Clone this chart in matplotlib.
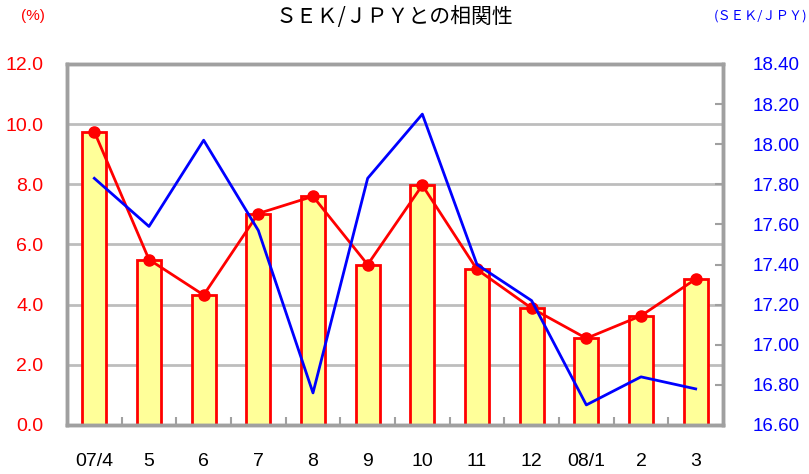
import numpy as np
import matplotlib.pyplot as plt

plt.rcParams['font.family'] = ['Liberation Sans', 'Noto Sans CJK JP', 'DejaVu Sans']

## Datos
months = ['07/4', '5', '6', '7', '8', '9', '10', '11', '12', '08/1', '2', '3']
rate = [9.75, 5.5, 4.32, 7.03, 7.6, 5.33, 7.97, 5.17, 3.88, 2.88, 3.63, 4.85]
sekjpy = [17.83, 17.59, 18.02, 17.57, 16.76, 17.83, 18.15, 17.40, 17.22, 16.70, 16.84, 16.78]

x = np.arange(len(months))
gray = '#a0a0a0'
cjk = ['Noto Sans CJK JP', 'DejaVu Sans']

fig = plt.figure(figsize=(8.09, 4.74), dpi=100)
ax = fig.add_axes([0.0828, 0.1034, 0.8109, 0.7616])

ax.bar(x, rate, width=0.44, color='#ffff99', edgecolor='red', linewidth=2, zorder=2)
ax.plot(x, rate, '-o', color='red', lw=2, ms=8, zorder=3)
ax.set_xlim(-0.5, len(months) - 0.5)
ax.set_ylim(0, 12)
ax.set_yticks(np.arange(0, 12.1, 2))
ax.set_yticklabels(['%.1f' % v for v in np.arange(0, 12.1, 2)])
ax.yaxis.grid(True, color='#bdbdbd', lw=2, zorder=0)
ax.set_axisbelow(True)
ax.tick_params(axis='y', colors='red', labelsize=14, length=0, pad=17)
ax.set_xticks(x)
ax.set_xticklabels(months)
ax.tick_params(axis='x', length=0, labelsize=14, pad=20)
ax.set_xticks(x[:-1] + 0.5, minor=True)
ax.tick_params(axis='x', which='minor', direction='in', length=6, color=gray, width=1.5)
for s in ax.spines.values():
    s.set_color(gray)
    s.set_linewidth(2.5)

ax2 = ax.twinx()
ax2.plot(x, sekjpy, color='blue', lw=2, zorder=4)
ax2.set_ylim(16.6, 18.4)
ax2.set_yticks(np.arange(16.6, 18.41, 0.2))
ax2.set_yticklabels(['%.2f' % v for v in np.arange(16.6, 18.41, 0.2)])
ax2.tick_params(axis='y', colors='blue', labelsize=13.5, direction='in', length=6, pad=21)
ax2.tick_params(axis='y', color=gray, width=1.5)
for s in ax2.spines.values():
    s.set_color(gray)
    s.set_linewidth(2.5)

fig.text(0.487, 0.964, 'ＳＥＫ/ＪＰＹとの相関性', ha='center', va='center', fontsize=15, family=cjk)
fig.text(0.041, 0.966, '(%)', ha='center', va='center', fontsize=11, color='red')
fig.text(0.94, 0.966, '(ＳＥＫ/ＪＰＹ)', ha='center', va='center', fontsize=9.5, color='blue', family=cjk)

fig.savefig('out.png')
